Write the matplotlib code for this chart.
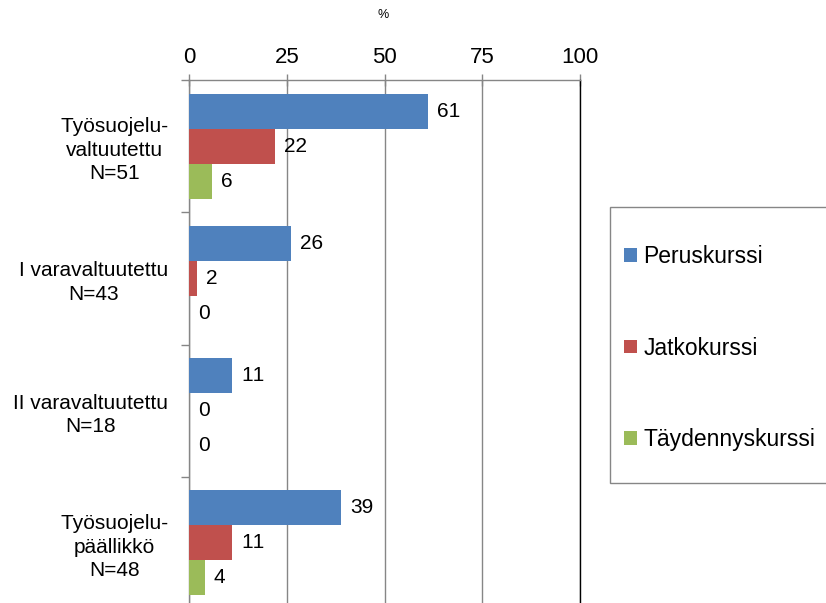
import matplotlib
matplotlib.use("Agg")
import matplotlib.pyplot as plt
from matplotlib.patches import Rectangle, Patch
import numpy as np

plt.rcParams['font.family'] = ['Liberation Sans', 'DejaVu Sans']
plt.rcParams['text.kerning_factor'] = 16

categories = ["Työsuojelu-\nvaltuutettu\nN=51", "I varavaltuutettu\nN=43",
              "II varavaltuutettu\nN=18", "Työsuojelu-\npäällikkö\nN=48"]
series_names = ["Peruskurssi", "Jatkokurssi", "Täydennyskurssi"]
peruskurssi = [61, 26, 11, 39]
jatkokurssi = [22, 2, 0, 11]
taydennyskurssi = [6, 0, 0, 4]
xticks = [0, 25, 50, 75, 100]
colors = ["#4F81BD", "#C0504D", "#9BBB59"]

W, H = 826, 603
fig = plt.figure(figsize=(W / 100, H / 100), dpi=100)
ax = fig.add_axes([189 / W, 1 - 609 / H, 391 / W, 529 / H])

y = np.arange(len(categories))
bh = 0.265
data = [peruskurssi, jatkokurssi, taydennyskurssi]
for i, (vals, c, name) in enumerate(zip(data, colors, series_names)):
    pos = y + (i - 1) * bh
    ax.barh(pos, vals, height=bh, color=c, label=name, zorder=3)
    for p, v in zip(pos, vals):
        ax.text(v + 2.3, p, str(v), va='center', ha='left', fontsize=15, color='black', zorder=4)

ax.set_xlim(0, 100)
ax.set_ylim(len(categories) - 0.5, -0.5)
ax.xaxis.tick_top()
ax.set_xticks(xticks)
ax.tick_params(axis='x', which='major', direction='inout', length=9, width=1, color='#868686',
               labelsize=16, pad=4)

ax.set_yticks(y)
ax.set_yticklabels(categories, fontsize=15, multialignment='center', linespacing=1.3)
ax.tick_params(axis='y', which='major', length=0, pad=15)
ax.set_yticks(np.arange(len(categories) + 1) - 0.5, minor=True)
ax.tick_params(axis='y', which='minor', length=6, width=1, color='#868686', direction='out')

ax.grid(axis='x', color='#868686', linewidth=1, zorder=0)
ax.spines['top'].set_color('#868686')
ax.spines['left'].set_color('#868686')
ax.spines['right'].set_color('black')
ax.spines['bottom'].set_visible(False)
for s in ax.spines.values():
    s.set_linewidth(1)

fig.text(383 / W, 1 - 15 / H, "%", ha='center', va='center', fontsize=9)

# legend box
fig.patches.append(Rectangle((610 / W, 1 - 483 / H), 230 / W, 276 / H,
                             transform=fig.transFigure, facecolor='white',
                             edgecolor='#868686', linewidth=1))
handles = [Patch(facecolor=c, edgecolor='none') for c in colors]
fig.legend(handles, series_names, loc='upper left', bbox_to_anchor=(624 / W, 1 - 245 / H),
           frameon=False, fontsize=16.5, handlelength=0.55, handleheight=0.55,
           handletextpad=0.3, labelspacing=2.99, borderpad=0, borderaxespad=0)

fig.savefig("out.png", dpi=100)
